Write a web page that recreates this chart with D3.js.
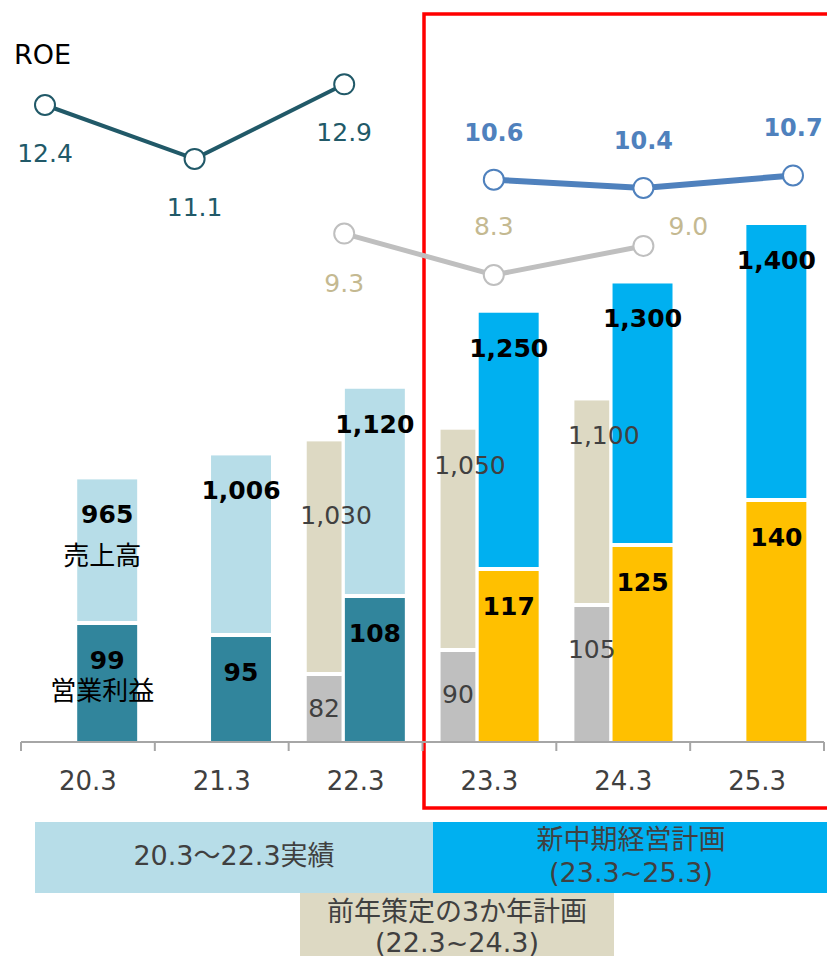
<!DOCTYPE html>
<html lang="ja">
  <head>
    <meta charset="UTF-8" />
    <title>売上高・営業利益・ROE</title>
    <style>
      body {
        margin: 0;
        background: #fff;
      }
      text {
        font-family: 'DejaVu Sans', Verdana, sans-serif;
      }
      .jp {
        font-family: 'Noto Sans CJK JP', 'Noto Sans', sans-serif;
      }
      .mix {
        font-family: 'DejaVu Sans', 'Noto Sans CJK JP', sans-serif;
      }
    </style>
  </head>
  <body>
    <svg width="827" height="956"></svg>
    <script src="https://cdn.jsdelivr.net/npm/d3@7/dist/d3.min.js"></script>
    <script>
      const years = ['20.3', '21.3', '22.3', '23.3', '24.3', '25.3'];
      // 実績 + 新中期経営計画
      const sales = [965, 1006, 1120, 1250, 1300, 1400];
      const profit = [99, 95, 108, 117, 125, 140];
      // 前年策定の3か年計画
      const prevSales = [null, null, 1030, 1050, 1100, null];
      const prevProfit = [null, null, 82, 90, 105, null];
      // ROE
      const roeActual = [12.4, 11.1, 12.9, null, null, null];
      const roePrev = [null, null, 9.3, 8.3, 9.0, null];
      const roeNew = [null, null, null, 10.6, 10.4, 10.7];

      const colors = {
        salesAct: '#b7dde8',
        profitAct: '#31859c',
        salesPlan: '#00b0f0',
        profitPlan: '#ffc000',
        salesPrev: '#ddd9c3',
        profitPrev: '#bfbfbf',
        roeAct: '#215968',
        roePrev: '#bfbfbf',
        roePrevText: '#c4b991',
        roeNew: '#4f81bd',
        text: '#404040',
      };

      const svg = d3.select('svg');
      const baseY = 742;

      const x = d3.scaleBand().domain(years).range([21, 824]).padding(0);
      const bw = x.bandwidth();
      const xRoe = d3.scalePoint().domain(years).range([45, 793]);

      const ySales = d3.scaleLinear().domain([516, 1400]).range([baseY, 225]);
      const yProfit = d3.scaleLinear().domain([60, 140]).range([baseY, 502]);
      const yRoe = d3.scaleLinear().domain([8.3, 12.4]).range([275, 105]);

      const fmt = d3.format(',');
      const isPlan = (i) => i >= 3;

      // red frame around the new plan
      svg
        .append('rect')
        .attr('x', x('23.3') + 1.5)
        .attr('y', 14)
        .attr('width', 420)
        .attr('height', 794)
        .attr('fill', 'none')
        .attr('stroke', '#ff0000')
        .attr('stroke-width', 3.5);

      const rows = years.map((y, i) => ({
        year: y,
        i: i,
        sales: sales[i],
        profit: profit[i],
        prevSales: prevSales[i],
        prevProfit: prevProfit[i],
      }));

      // main bars
      const mainX = (d) => x(d.year) + bw * 0.42;
      const mainW = bw * 0.448;
      const main = svg.append('g');
      main
        .selectAll('rect.sales')
        .data(rows)
        .join('rect')
        .attr('class', 'sales')
        .attr('x', mainX)
        .attr('width', mainW)
        .attr('y', (d) => ySales(d.sales))
        .attr('height', (d) => yProfit(d.profit) - 4 - ySales(d.sales))
        .attr('fill', (d) => (isPlan(d.i) ? colors.salesPlan : colors.salesAct));
      main
        .selectAll('rect.profit')
        .data(rows)
        .join('rect')
        .attr('class', 'profit')
        .attr('x', mainX)
        .attr('width', mainW)
        .attr('y', (d) => yProfit(d.profit))
        .attr('height', (d) => baseY - yProfit(d.profit))
        .attr('fill', (d) => (isPlan(d.i) ? colors.profitPlan : colors.profitAct));

      // previous plan bars
      const prevRows = rows.filter((d) => d.prevSales != null);
      const prevX = (d) => x(d.year) + bw * 0.135;
      const prevW = bw * 0.26;
      const prev = svg.append('g');
      prev
        .selectAll('rect.sales')
        .data(prevRows)
        .join('rect')
        .attr('x', prevX)
        .attr('width', prevW)
        .attr('y', (d) => ySales(d.prevSales))
        .attr('height', (d) => yProfit(d.prevProfit) - 4 - ySales(d.prevSales))
        .attr('fill', colors.salesPrev);
      prev
        .selectAll('rect.profit')
        .data(prevRows)
        .join('rect')
        .attr('x', prevX)
        .attr('width', prevW)
        .attr('y', (d) => yProfit(d.prevProfit))
        .attr('height', (d) => baseY - yProfit(d.prevProfit))
        .attr('fill', colors.profitPrev);

      // bar labels
      const lab = svg.append('g').attr('text-anchor', 'middle');
      lab
        .selectAll('text.s')
        .data(rows)
        .join('text')
        .attr('x', (d) => mainX(d) + mainW / 2)
        .attr('y', (d) => ySales(d.sales) + 44)
        .attr('font-size', 25)
        .attr('font-weight', 'bold')
        .text((d) => fmt(d.sales));
      lab
        .selectAll('text.p')
        .data(rows)
        .join('text')
        .attr('x', (d) => mainX(d) + mainW / 2)
        .attr('y', (d) => yProfit(d.profit) + 44)
        .attr('font-size', 25)
        .attr('font-weight', 'bold')
        .text((d) => d.profit);

      // 1,030 is pushed down so it clears 1,120
      const prevSalesDy = { '22.3': 83 };
      lab
        .selectAll('text.ps')
        .data(prevRows)
        .join('text')
        .attr('x', (d) => prevX(d) + prevW / 2 + 12)
        .attr('y', (d) => ySales(d.prevSales) + (prevSalesDy[d.year] || 44))
        .attr('font-size', 25)
        .attr('fill', colors.text)
        .text((d) => fmt(d.prevSales));
      lab
        .selectAll('text.pp')
        .data(prevRows)
        .join('text')
        .attr('x', (d) => prevX(d) + prevW / 2)
        .attr('y', (d) => yProfit(d.prevProfit) + (d.year === '22.3' ? 41 : 51))
        .attr('font-size', 25)
        .attr('fill', colors.text)
        .text((d) => d.prevProfit);

      // series names on the first bar
      const first = rows[0];
      lab
        .append('text')
        .attr('class', 'jp')
        .attr('x', mainX(first) + mainW / 2 - 5)
        .attr('y', ySales(first.sales) + 86)
        .attr('font-size', 26)
        .text('売上高');
      lab
        .append('text')
        .attr('class', 'jp')
        .attr('x', mainX(first) + mainW / 2 - 5)
        .attr('y', yProfit(first.profit) + 75)
        .attr('font-size', 26)
        .text('営業利益');

      // axis
      const axis = svg.append('g');
      axis
        .append('line')
        .attr('x1', x.range()[0])
        .attr('x2', x.range()[1])
        .attr('y1', baseY)
        .attr('y2', baseY)
        .attr('stroke', '#a6a6a6')
        .attr('stroke-width', 2);
      const bounds = years.map((y) => x(y)).concat([x.range()[1]]);
      axis
        .selectAll('line.tick')
        .data(bounds)
        .join('line')
        .attr('x1', (d) => d)
        .attr('x2', (d) => d)
        .attr('y1', baseY)
        .attr('y2', baseY + 9)
        .attr('stroke', '#a6a6a6')
        .attr('stroke-width', 2);
      axis
        .selectAll('text')
        .data(years)
        .join('text')
        .attr('x', (d) => x(d) + bw / 2)
        .attr('y', 790)
        .attr('text-anchor', 'middle')
        .attr('font-size', 26)
        .attr('fill', colors.text)
        .text((d) => d);

      // ROE lines
      svg
        .append('text')
        .attr('x', 14)
        .attr('y', 64)
        .attr('font-size', 27)
        .text('ROE');

      function roeSeries(values, color, width, textColor, bold, place) {
        const pts = values
          .map((v, i) => ({ v: v, year: years[i] }))
          .filter((d) => d.v != null);
        const line = d3
          .line()
          .x((d) => xRoe(d.year))
          .y((d) => yRoe(d.v));
        const g = svg.append('g');
        g.append('path')
          .datum(pts)
          .attr('d', line)
          .attr('fill', 'none')
          .attr('stroke', color)
          .attr('stroke-width', width);
        g.selectAll('circle')
          .data(pts)
          .join('circle')
          .attr('cx', (d) => xRoe(d.year))
          .attr('cy', (d) => yRoe(d.v))
          .attr('r', 10)
          .attr('fill', '#fff')
          .attr('stroke', color)
          .attr('stroke-width', 2);
        g.selectAll('text')
          .data(pts)
          .join('text')
          .attr('x', (d, i) => xRoe(d.year) + place(i)[0])
          .attr('y', (d, i) => yRoe(d.v) + place(i)[1])
          .attr('text-anchor', 'middle')
          .attr('font-size', bold ? 24 : 25)
          .attr('font-weight', bold ? 'bold' : 'normal')
          .attr('fill', textColor)
          .text((d) => d.v.toFixed(1));
      }

      roeSeries(roeActual, colors.roeAct, 4, colors.roeAct, false, () => [0, 57]);
      roeSeries(roePrev, colors.roePrev, 5, colors.roePrevText, false, (i) =>
        [[0, 58], [0, -40], [45, -11]][i],
      );
      roeSeries(roeNew, colors.roeNew, 6, colors.roeNew, true, () => [0, -39]);

      // period boxes under the axis
      const boxes = svg.append('g');
      boxes
        .append('rect')
        .attr('x', 35)
        .attr('y', 822)
        .attr('width', 398)
        .attr('height', 71)
        .attr('fill', colors.salesAct);
      boxes
        .append('rect')
        .attr('x', 433)
        .attr('y', 822)
        .attr('width', 394)
        .attr('height', 71)
        .attr('fill', colors.salesPlan);
      boxes
        .append('rect')
        .attr('x', 300)
        .attr('y', 893)
        .attr('width', 314)
        .attr('height', 63)
        .attr('fill', colors.salesPrev);

      const boxText = [
        { x: 234, y: 865, t: '20.3～22.3実績' },
        { x: 631, y: 849, t: '新中期経営計画' },
        { x: 631, y: 882, t: '(23.3~25.3)' },
        { x: 457, y: 921, t: '前年策定の3か年計画' },
        { x: 457, y: 952, t: '(22.3~24.3)' },
      ];
      boxes
        .selectAll('text')
        .data(boxText)
        .join('text')
        .attr('class', 'mix')
        .attr('x', (d) => d.x)
        .attr('y', (d) => d.y)
        .attr('text-anchor', 'middle')
        .attr('font-size', 27)
        .attr('fill', colors.text)
        .text((d) => d.t);
    </script>
  </body>
</html>
